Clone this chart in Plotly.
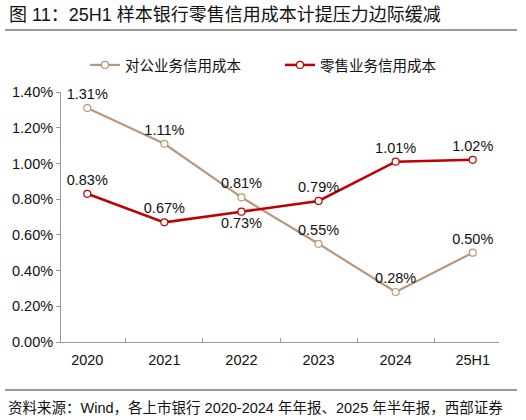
import plotly.graph_objects as go

categories = ["2020", "2021", "2022", "2023", "2024", "25H1"]
corp_cost = [1.31, 1.11, 0.81, 0.55, 0.28, 0.50]
retail_cost = [0.83, 0.67, 0.73, 0.79, 1.01, 1.02]
y_ticks = [0, 0.2, 0.4, 0.6, 0.8, 1.0, 1.2, 1.4]

corp_name = "对公业务信用成本"
retail_name = "零售业务信用成本"
title_text = "图 11：25H1 样本银行零售信用成本计提压力边际缓减"
source_text = "资料来源：Wind，各上市银行 2020-2024 年年报、2025 年半年报，西部证券"

BROWN = "#B8987A"
RED = "#C00000"
FONT = "Liberation Sans, Noto Sans CJK SC, sans-serif"

PW, PH, PB = 438, 250, 342  # plot width, height, bottom pixel


def py(pix):
    return (PB - pix) / PH


def px(pix):
    return (pix - 61) / PW


fig = go.Figure()
fig.add_trace(go.Scatter(
    x=categories, y=corp_cost, name=corp_name, mode="lines+markers+text",
    line=dict(color=BROWN, width=2.2),
    marker=dict(symbol="circle", size=7, color="white", line=dict(color=BROWN, width=1.2)),
    text=[f"{v:.2f}%" for v in corp_cost], textposition="top center",
    textfont=dict(size=14.5, color="#111111", family=FONT),
    cliponaxis=False,
))
retail_pos = ["top center", "top center", "bottom center", "top center", "top center", "top center"]
fig.add_trace(go.Scatter(
    x=categories, y=retail_cost, name=retail_name, mode="lines+markers+text",
    line=dict(color=RED, width=2.5),
    marker=dict(symbol="circle", size=7, color="white", line=dict(color=RED, width=1.2)),
    text=[f"{v:.2f}%" for v in retail_cost], textposition=retail_pos,
    textfont=dict(size=14.5, color="#111111", family=FONT),
    cliponaxis=False,
))

fig.update_layout(
    width=526, height=420,
    margin=dict(l=61, r=27, t=92, b=78),
    paper_bgcolor="white", plot_bgcolor="white",
    font=dict(family=FONT, size=14, color="#111111"),
    showlegend=True,
    legend=dict(orientation="h", x=0.5, xanchor="center", y=py(65), yanchor="middle",
                font=dict(size=14.5, family="Noto Sans CJK SC"), tracegroupgap=0,
                entrywidth=150),
    xaxis=dict(type="category", showgrid=False, showline=True, linecolor="#999999", linewidth=1,
               ticks="inside", tickson="boundaries", ticklen=4, tickcolor="#999999",
               ticklabelstandoff=5,
               tickfont=dict(size=14.5, color="#111111")),
    yaxis=dict(range=[0, 1.4], tickvals=y_ticks, ticktext=[f"{v:.2f}%" for v in y_ticks],
               showgrid=False, showline=True, linecolor="#999999", linewidth=1,
               ticks="outside", ticklen=4, tickcolor="#999999", zeroline=False,
               tickfont=dict(size=14.5, color="#111111")),
)

fig.add_annotation(text=title_text, xref="paper", yref="paper", x=px(7), xanchor="left",
                   y=py(15), yanchor="middle", showarrow=False,
                   font=dict(size=18, family=FONT, color="#111111"))
fig.add_annotation(text=source_text, xref="paper", yref="paper", x=px(6), xanchor="left",
                   y=py(408), yanchor="middle", showarrow=False,
                   font=dict(size=14.5, family=FONT, color="#111111"))
fig.add_shape(type="line", xref="paper", yref="paper", x0=px(5), x1=px(517),
              y0=py(30), y1=py(30), line=dict(color="#333333", width=1))
fig.add_shape(type="line", xref="paper", yref="paper", x0=px(5), x1=px(517),
              y0=py(390), y1=py(390), line=dict(color="#333333", width=1))

fig.write_html("out.html")
